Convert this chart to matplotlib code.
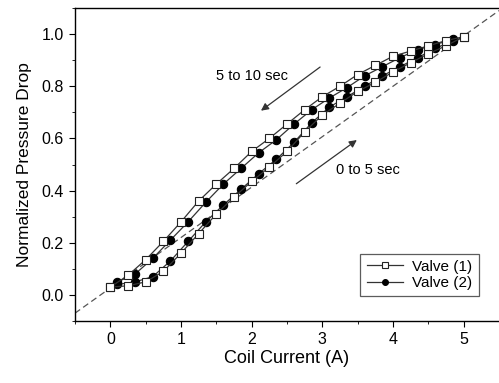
import matplotlib
matplotlib.use("Agg")
import matplotlib.pyplot as plt
import numpy as np

# Valve (1): ascending (0->5 s) then descending (5->10 s)
v1_up_x = [0, 0.25, 0.5, 0.75, 1.0, 1.25, 1.5, 1.75, 2.0, 2.25, 2.5, 2.75, 3.0, 3.25, 3.5, 3.75, 4.0, 4.25, 4.5, 4.75, 5.0]
v1_up_y = [0.03, 0.035, 0.05, 0.09, 0.16, 0.235, 0.31, 0.375, 0.435, 0.49, 0.55, 0.625, 0.69, 0.735, 0.78, 0.815, 0.855, 0.89, 0.925, 0.955, 0.99]
v1_dn_x = [5.0, 4.75, 4.5, 4.25, 4.0, 3.75, 3.5, 3.25, 3.0, 2.75, 2.5, 2.25, 2.0, 1.75, 1.5, 1.25, 1.0, 0.75, 0.5, 0.25, 0.0]
v1_dn_y = [0.99, 0.975, 0.955, 0.935, 0.915, 0.88, 0.845, 0.80, 0.76, 0.71, 0.655, 0.60, 0.55, 0.485, 0.425, 0.36, 0.28, 0.205, 0.135, 0.075, 0.03]

# Valve (2)
v2_up_x = [0.1, 0.35, 0.6, 0.85, 1.1, 1.35, 1.6, 1.85, 2.1, 2.35, 2.6, 2.85, 3.1, 3.35, 3.6, 3.85, 4.1, 4.35, 4.6, 4.85]
v2_up_y = [0.04, 0.05, 0.07, 0.13, 0.205, 0.28, 0.345, 0.405, 0.465, 0.52, 0.585, 0.66, 0.72, 0.76, 0.80, 0.84, 0.875, 0.91, 0.945, 0.975]
v2_dn_x = [4.85, 4.6, 4.35, 4.1, 3.85, 3.6, 3.35, 3.1, 2.85, 2.6, 2.35, 2.1, 1.85, 1.6, 1.35, 1.1, 0.85, 0.6, 0.35, 0.1]
v2_dn_y = [0.98, 0.96, 0.94, 0.91, 0.875, 0.84, 0.795, 0.755, 0.71, 0.655, 0.595, 0.545, 0.485, 0.425, 0.355, 0.28, 0.21, 0.14, 0.08, 0.05]

# Reference (linear) dashed line
ref_x = [-0.5, 5.5]
ref_y = [-0.07, 1.09]

xticks = [0, 1, 2, 3, 4, 5]
yticks = [0.0, 0.2, 0.4, 0.6, 0.8, 1.0]

plt.rcParams['font.family'] = ['Liberation Sans', 'DejaVu Sans']

fig = plt.figure(figsize=(4.99, 3.83), dpi=100)
ax = fig.add_axes([75/499, 62/383, 424/499, 313/383])

ax.plot(ref_x, ref_y, linestyle=(0, (5, 3)), color='#555555', lw=0.9, zorder=1)

ax.plot(v1_up_x + v1_dn_x, v1_up_y + v1_dn_y, color='#333333', lw=0.9,
        marker='s', markersize=6, markerfacecolor='white', markeredgecolor='#222222',
        markeredgewidth=0.8, label='Valve (1)', zorder=3)
ax.plot(v2_up_x + v2_dn_x, v2_up_y + v2_dn_y, color='#333333', lw=0.9,
        marker='o', markersize=6, markerfacecolor='black', markeredgecolor='black',
        markeredgewidth=0.8, label='Valve (2)', zorder=2)

ax.annotate('', xy=(2.1, 0.70), xytext=(3.0, 0.88),
            arrowprops=dict(arrowstyle='-|>', color='#333333', lw=0.9, mutation_scale=11))
ax.text(2.0, 0.84, '5 to 10 sec', ha='center', va='center', fontsize=10.5)
ax.annotate('', xy=(3.52, 0.60), xytext=(2.6, 0.42),
            arrowprops=dict(arrowstyle='-|>', color='#333333', lw=0.9, mutation_scale=11))
ax.text(3.64, 0.477, '0 to 5 sec', ha='center', va='center', fontsize=10.5)

ax.set_xlim(-0.5, 5.5)
ax.set_ylim(-0.1, 1.1)
ax.set_xticks(xticks)
ax.set_yticks(yticks)
ax.set_xticklabels([str(t) for t in xticks])
ax.set_yticklabels([f'{t:.1f}' for t in yticks])
ax.set_xticks(np.arange(-0.5, 5.6, 0.5), minor=True)
ax.set_yticks(np.arange(-0.1, 1.11, 0.1), minor=True)
ax.tick_params(which='major', direction='out', length=4, labelsize=11.5, pad=4)
ax.tick_params(which='minor', direction='out', length=2)
ax.spines['right'].set_visible(False)
for s in ['left', 'bottom', 'top']:
    ax.spines[s].set_linewidth(1.0)

ax.set_xlabel('Coil Current (A)', fontsize=13, labelpad=2)
ax.set_ylabel('Normalized Pressure Drop', fontsize=12.5, labelpad=7)

leg = ax.legend(loc='lower right', bbox_to_anchor=(0.97, 0.055), fontsize=11,
                frameon=True, fancybox=False, edgecolor='#333333', handlelength=2.4,
                borderpad=0.4, labelspacing=0.15, handletextpad=0.6, markerscale=0.7)
leg.get_frame().set_linewidth(0.9)

fig.savefig('out.png', dpi=100)
